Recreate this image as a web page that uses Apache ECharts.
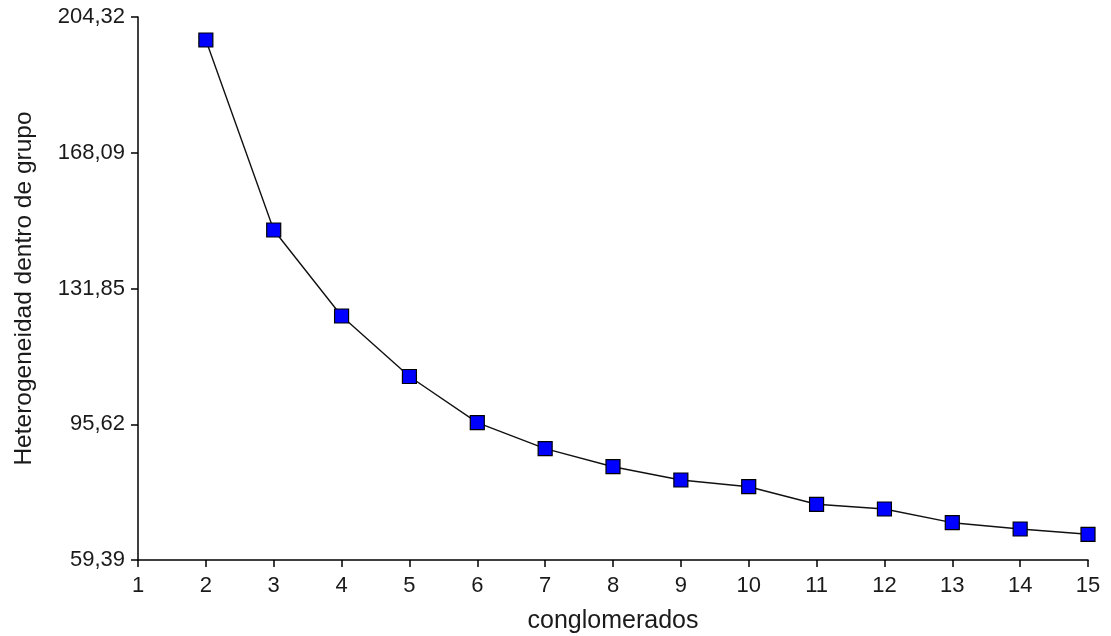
<!DOCTYPE html>
<html>
<head>
<meta charset="utf-8">
<script src="https://cdn.jsdelivr.net/npm/echarts@6/dist/echarts.min.js"></script>
<style>
html,body{margin:0;padding:0;background:#fff;}
#chart{width:1111px;height:636px;}
</style>
</head>
<body>
<div id="chart"></div>
<script>
var clusters = [2, 3, 4, 5, 6, 7, 8, 9, 10, 11, 12, 13, 14, 15];
var heterogeneity = [198.18, 147.47, 124.51, 108.37, 96.04, 89.10, 84.29, 80.74, 78.95, 74.26, 73.00, 69.35, 67.66, 66.25];
var yTickValues = [59.39, 95.62, 131.85, 168.09, 204.32];
var yTickLabels = ['59,39', '95,62', '131,85', '168,09', '204,32'];
var xAxisName = 'conglomerados';
var yAxisName = 'Heterogeneidad dentro de grupo';

var chart = echarts.init(document.getElementById('chart'), null, {renderer: 'canvas'});
var font = 'Liberation Sans, Arial, sans-serif';
var textColor = '#1a1a1a';

chart.setOption({
  animation: false,
  backgroundColor: '#fff',
  grid: {left: 138, right: 23, top: 17, bottom: 76, containLabel: false, outerBoundsMode: 'none'},
  xAxis: {
    type: 'value',
    min: 1, max: 15, interval: 1,
    name: xAxisName,
    nameLocation: 'middle',
    nameGap: 49,
    nameTextStyle: {fontFamily: font, fontSize: 25, color: textColor},
    axisLine: {show: true, onZero: false, lineStyle: {color: '#000', width: 1.5}},
    axisTick: {show: true, length: 7, lineStyle: {color: '#000', width: 1.5}},
    axisLabel: {fontFamily: font, fontSize: 22, color: textColor, margin: 15},
    splitLine: {show: false}
  },
  yAxis: {
    type: 'value',
    min: yTickValues[0], max: yTickValues[yTickValues.length - 1],
    name: yAxisName,
    nameLocation: 'middle',
    nameGap: 101,
    nameRotate: 90,
    nameTextStyle: {fontFamily: font, fontSize: 24.5, color: textColor},
    axisLine: {show: true, onZero: false, lineStyle: {color: '#000', width: 1.5}},
    axisTick: {show: true, length: 7, customValues: yTickValues, lineStyle: {color: '#000', width: 1.5}},
    axisLabel: {
      fontFamily: font, fontSize: 22, color: textColor, margin: 13,
      customValues: yTickValues,
      formatter: function (v) {
        for (var i = 0; i < yTickValues.length; i++) {
          if (Math.abs(yTickValues[i] - v) < 1e-6) return yTickLabels[i];
        }
        return '';
      }
    },
    splitLine: {show: false}
  },
  series: [{
    type: 'line',
    data: clusters.map(function (c, i) { return [c, heterogeneity[i]]; }),
    symbol: 'rect',
    symbolSize: 14,
    itemStyle: {color: '#0000ff', borderColor: '#000', borderWidth: 1.2},
    lineStyle: {color: '#111', width: 1.4},
    z: 3
  }]
});
</script>
</body>
</html>
